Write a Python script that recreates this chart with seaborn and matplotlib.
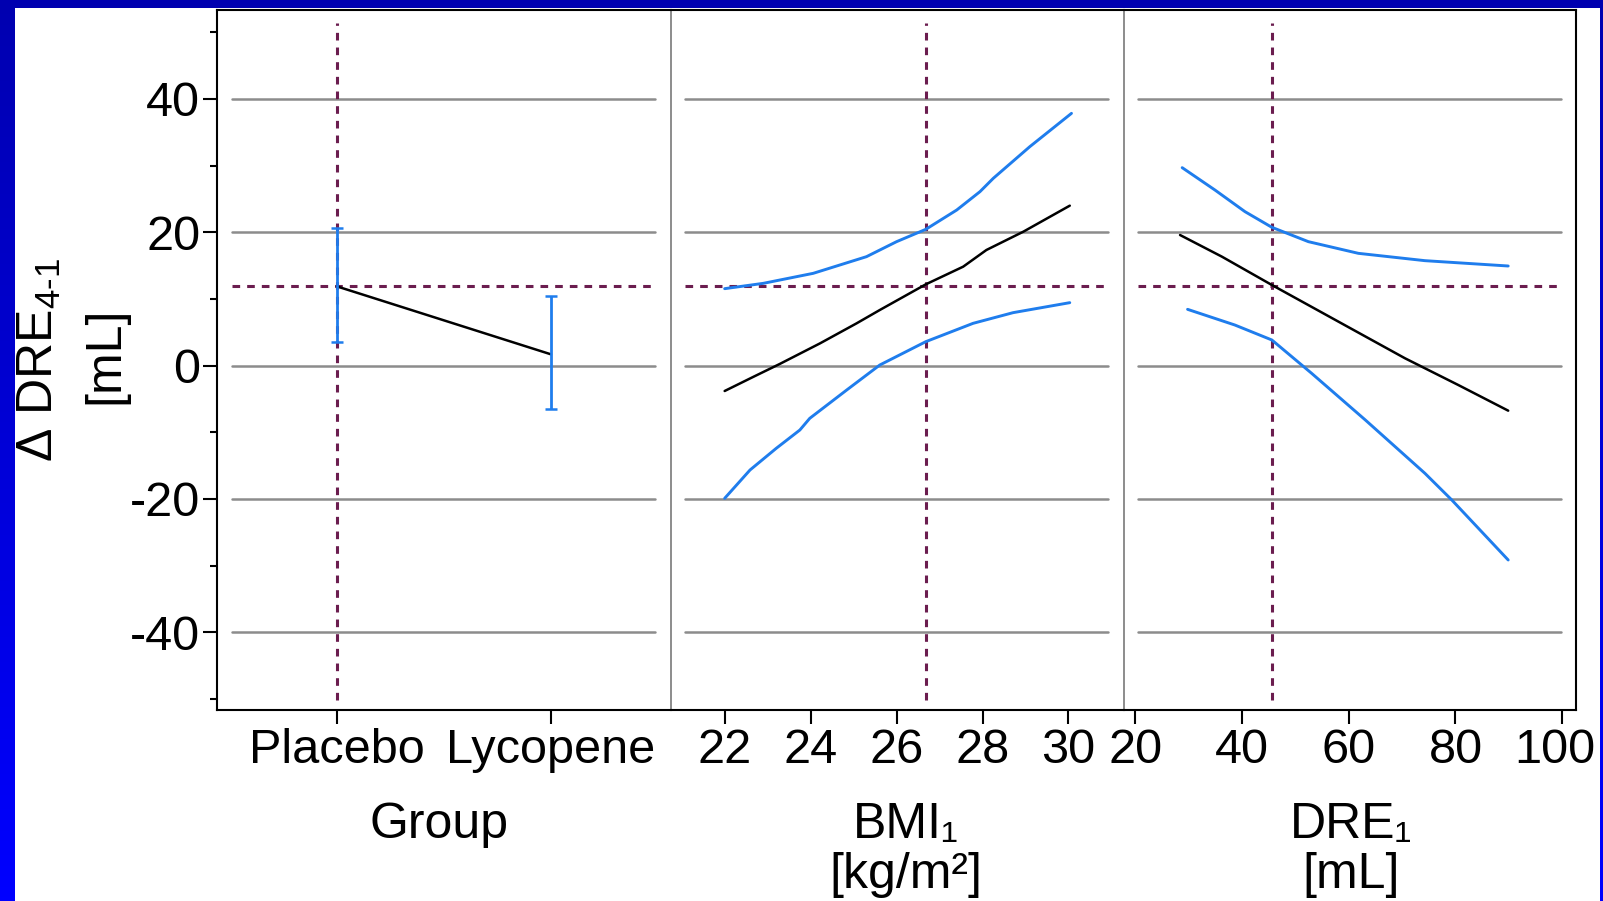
import matplotlib
matplotlib.use("Agg")
import matplotlib.pyplot as plt
import matplotlib.transforms as mtransforms
from matplotlib.colors import LinearSegmentedColormap
from matplotlib.patches import Rectangle
from matplotlib.ticker import MultipleLocator
import numpy as np
import seaborn as sns

# --- data ------------------------------------------------------------------
group_names = ["Placebo", "Lycopene"]
group_mean = [11.9, 1.7]
group_lo = [3.5, -6.5]
group_hi = [20.7, 10.4]

bmi_fit_x = [22.0, 22.66, 23.28, 24.22, 25.07, 25.61, 26.68, 27.55, 28.09, 28.95, 30.03]
bmi_fit_y = [-3.8, -1.7, 0.25, 3.35, 6.35, 8.35, 12.2, 14.85, 17.35, 20.1, 24.0]
bmi_up_x = [22.0, 22.9, 24.06, 25.3, 26.0, 26.68, 27.4, 27.94, 28.25, 29.1, 30.07]
bmi_up_y = [11.55, 12.35, 13.85, 16.35, 18.6, 20.45, 23.35, 26.1, 28.1, 32.85, 37.85]
bmi_lo_x = [22.0, 22.59, 23.2, 23.75, 23.98, 24.84, 25.61, 26.68, 27.78, 28.71, 30.03]
bmi_lo_y = [-19.9, -15.65, -12.4, -9.65, -7.9, -3.65, 0.1, 3.6, 6.35, 7.95, 9.45]

dre_fit_x = [28.37, 36.22, 45.59, 58.07, 70.56, 80.53, 89.89]
dre_fit_y = [19.6, 16.35, 12.1, 6.6, 1.1, -2.9, -6.75]
dre_up_x = [28.77, 34.91, 40.55, 45.59, 52.43, 61.8, 74.28, 89.89]
dre_up_y = [29.7, 26.35, 23.1, 20.75, 18.6, 16.85, 15.75, 14.95]
dre_lo_x = [29.78, 38.64, 45.59, 53.04, 63.11, 74.28, 79.32, 89.89]
dre_lo_y = [8.45, 6.1, 3.85, -1.15, -8.15, -16.15, -20.15, -29.15]

ref_y = 11.9
bmi_ref = 26.68
dre_ref = 45.59

y_ticks = [-40, -20, 0, 20, 40]
bmi_ticks = [22, 24, 26, 28, 30]
dre_ticks = [20, 40, 60, 80, 100]

BLUE = "#1f7ded"
MAROON = "#6b1d4f"
GRID = "#8c8c8c"
SEP = "#6e6e6e"
DOT = (0, (2.5, 2.3))

sns.set_style("ticks")
plt.rcParams.update({
    "font.family": ["Liberation Sans", "DejaVu Sans"],
    "text.color": "black", "axes.labelcolor": "black",
    "xtick.color": "black", "ytick.color": "black",
    "axes.unicode_minus": False,
    "mathtext.fontset": "custom",
    "mathtext.rm": "Liberation Sans",
    "mathtext.it": "Liberation Sans:italic",
    "mathtext.bf": "Liberation Sans:bold",
})

W, H = 1603, 901
fig = plt.figure(figsize=(W / 100, H / 100), dpi=100)

# blue gradient slide background with white card
bg = fig.add_axes([0, 0, 1, 1], zorder=-10)
cmap = LinearSegmentedColormap.from_list("slide", ["#0000b0", "#0000ff"])
bg.imshow(np.linspace(0, 1, 256)[:, None], aspect="auto", cmap=cmap,
          extent=[0, 1, 0, 1], origin="upper")
bg.add_patch(Rectangle((15 / W, 0), (1600 - 15) / W, (H - 8) / H,
                       transform=bg.transAxes, facecolor="white", edgecolor="none"))
bg.set_xlim(0, 1); bg.set_ylim(0, 1)
bg.axis("off")

edges = [217, 670.5, 1123.5, 1576]
bottom, top = 1 - 710 / H, 1 - 10 / H
axes = [fig.add_axes([edges[i] / W, bottom, (edges[i + 1] - edges[i]) / W, top - bottom])
        for i in range(3)]
ax1, ax2, ax3 = axes

XMIN, XMAX = 0.032, 0.966
for ax in axes:
    ax.set_facecolor("none")
    ax.set_ylim(-51.65, 53.35)
    for v in y_ticks:
        ax.axhline(v, xmin=XMIN, xmax=XMAX, color=GRID, lw=1.8, zorder=1)
    ax.axhline(ref_y, xmin=XMIN, xmax=XMAX, color=MAROON, lw=2.2, ls=DOT, zorder=2)
    for side in ("top", "bottom", "left", "right"):
        ax.spines[side].set_color("black")
        ax.spines[side].set_linewidth(1.5)
    ax.tick_params(axis="x", length=10, width=1.5, pad=3, labelsize=35, colors="black")

# separators between panels
ax1.spines["right"].set_visible(False)
ax2.spines["right"].set_visible(False)
for ax in (ax2, ax3):
    ax.spines["left"].set_color(SEP)
    ax.spines["left"].set_linewidth(1.1)
    ax.tick_params(axis="y", left=False, labelleft=False)

# panel 1: group
sns.lineplot(x=group_names, y=group_mean, ax=ax1, color="black", lw=1.8,
             sort=False, zorder=3)
err = [np.array(group_mean) - np.array(group_lo), np.array(group_hi) - np.array(group_mean)]
ax1.errorbar(group_names, group_mean, yerr=err, fmt="none", ecolor=BLUE,
             elinewidth=2.0, capsize=4.5, capthick=1.8, zorder=4)
ax1.axvline(0, ymin=0.014, ymax=0.981, color=MAROON, lw=2.2, ls=DOT, zorder=2)
ax1.set_xlim(-0.559, 1.558)
ax1.set_yticks(y_ticks)
ax1.yaxis.set_minor_locator(MultipleLocator(20, offset=10))
ax1.tick_params(axis="y", which="major", length=10, width=1.5, pad=2,
                labelsize=35, colors="black")
ax1.tick_params(axis="y", which="minor", length=5, width=1.5, colors="black")

# panel 2: BMI
sns.lineplot(x=bmi_up_x, y=bmi_up_y, ax=ax2, color=BLUE, lw=2.1, sort=False, zorder=3)
sns.lineplot(x=bmi_lo_x, y=bmi_lo_y, ax=ax2, color=BLUE, lw=2.1, sort=False, zorder=3)
sns.lineplot(x=bmi_fit_x, y=bmi_fit_y, ax=ax2, color="black", lw=1.8, sort=False, zorder=3)
ax2.axvline(bmi_ref, ymin=0.014, ymax=0.981, color=MAROON, lw=2.2, ls=DOT, zorder=2)
ax2.set_xlim(20.74, 31.28)
ax2.set_xticks(bmi_ticks)

# panel 3: DRE
sns.lineplot(x=dre_up_x, y=dre_up_y, ax=ax3, color=BLUE, lw=2.1, sort=False, zorder=3)
sns.lineplot(x=dre_lo_x, y=dre_lo_y, ax=ax3, color=BLUE, lw=2.1, sort=False, zorder=3)
sns.lineplot(x=dre_fit_x, y=dre_fit_y, ax=ax3, color="black", lw=1.8, sort=False, zorder=3)
ax3.axvline(dre_ref, ymin=0.014, ymax=0.981, color=MAROON, lw=2.2, ls=DOT, zorder=2)
ax3.set_xlim(17.77, 102.6)
ax3.set_xticks(dre_ticks)
# the last label sits pulled in from the card edge, as in the reference
last = ax3.xaxis.get_major_ticks()[-1].label1
last.set_transform(last.get_transform()
                   + mtransforms.ScaledTranslation(-0.07, 0, fig.dpi_scale_trans))

for ax in axes:
    ax.set_xlabel("")
    ax.set_ylabel("")

# x axis titles, placed by baseline (unicode subscript keeps clear of line 2)
labels = [(ax1, 0.489, "Group", None),
          (ax2, 0.519, "BMI₁", "[kg/m²]"),
          (ax3, 0.503, "DRE₁", "[mL]")]
for ax, xc, l1, l2 in labels:
    tr = mtransforms.blended_transform_factory(ax.transAxes, fig.transFigure)
    ax.text(xc, 1 - 838 / H, l1, transform=tr, ha="center", va="baseline", fontsize=36)
    if l2:
        ax.text(xc, 1 - 888 / H, l2, transform=tr, ha="center", va="baseline", fontsize=36)

# y axis title, two rotated lines
fig.text(53 / W, 1 - 360 / H, r"Δ DRE$_{4\text{-}1}$", rotation=90, rotation_mode="anchor",
         ha="center", va="baseline", fontsize=36)
fig.text(118 / W, 1 - 355 / H, "[mL]", rotation=90, rotation_mode="anchor",
         ha="center", va="baseline", fontsize=36)

fig.savefig("out.png", dpi=100, facecolor="white")
